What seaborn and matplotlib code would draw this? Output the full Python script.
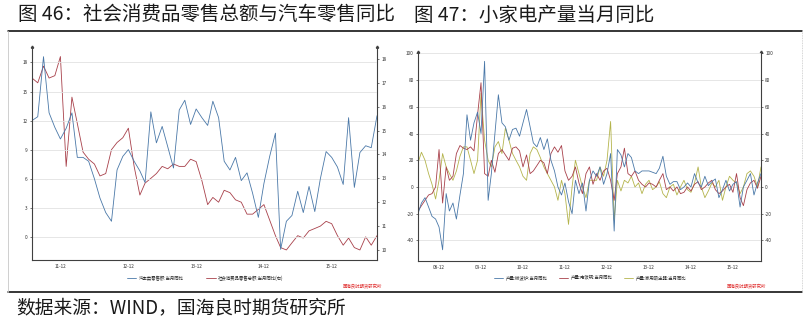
import matplotlib
matplotlib.use("Agg")
import matplotlib.pyplot as plt
from matplotlib.lines import Line2D
import pandas as pd
import seaborn as sns

sns.set_style("white")
plt.rcParams['font.family'] = ['Noto Sans CJK SC', 'DejaVu Sans']
plt.rcParams['axes.unicode_minus'] = False

# ---------------- 图 46 data (monthly, %) ----------------
retail_start = "2011-07-01"
auto_retail_yoy = [
    12.0, 12.4, 18.6, 12.8, 11.3, 10.1, 11.2, 12.8, 8.2, 8.2,
    7.8, 6.0, 4.0, 2.5, 1.6, 6.9, 8.3, 9.0, 7.8, 6.8,
    5.6, 12.9, 9.7, 11.4, 9.3, 7.1, 13.1, 14.1, 11.6, 13.2,
    12.3, 11.5, 14.0, 12.3, 7.8, 6.9, 8.2, 5.8, 6.6, 4.5,
    2.0, 5.5, 8.3, 10.7, -1.3, 1.6, 2.2, 4.7, 2.5, 5.2,
    2.6, 6.0, 8.8, 8.2, 7.2, 5.4, 12.3, 5.1, 8.7, 9.4,
    9.2, 12.5,
]
total_retail_yoy = [
    17.2, 17.0, 17.7, 17.2, 17.3, 18.1, 13.5, 16.4, 15.3, 14.1,
    13.8, 13.6, 13.1, 13.2, 14.2, 14.5, 14.7, 15.1, 13.5, 12.3,
    12.8, 13.0, 13.2, 13.5, 13.4, 13.6, 13.5, 13.5, 13.8, 13.7,
    12.9, 11.9, 12.2, 12.0, 12.5, 12.4, 12.1, 12.0, 11.5, 11.5,
    11.7, 11.9, 11.25, 10.6, 10.1, 10.0, 10.3, 10.6, 10.5, 10.8,
    10.9, 11.0, 11.2, 11.1, 10.6, 10.2, 10.5, 10.1, 10.0, 10.55,
    10.2, 10.6,
]
retail_labels = ["汽车类零售额:当月同比", "社会消费品零售总额:当月同比(右)"]

# ---------------- 图 47 data (monthly, %) ----------------
appliance_start = "2008-06-01"
microwave_yoy = [
    -20, -12, -8, -15, -22, -24, -30, -47, -5, -18,
    -12, -24, -6, 10, 54, 35, 48, 56, 40, 94,
    -10, 10, 40, 69, 48, 45, 35, 43, 44, 38,
    48, 58, 45, 33, 30, 37, 28, 36, 20, 12,
    0, -6, 3, -11, -20, 5, -5, 3, -18, 5,
    12, 8, 15, 2, 10, 25, -33, 28, 24, 15,
    25, 22, 12, 10, 12, 12, 12, 11, 10, 14,
    23, 8, 2, 4, 4, -2, 0, 3, 0, 10,
    3, 0, 8, 1, 4, 6, -8, -2, 5, -3,
    2, 4, -15, 0, 5, 10, -6, 3, 10,
]
rice_cooker_yoy = [
    -18, -14, -10, -6, -5, 0, 28, -12, 15, 5,
    8, 25, 31, 29, 28, 30, 27, 54, 78, 10,
    8, 20, 11, 25, 28, 24, 20, 29, 30, 27,
    15, 24, 10, 12, 16, 20, 18, 10, 25, 30,
    26, 31, 12, 5, 8, 15, 3, -5, 10, 15,
    2, 10, 5, 12, 14, 5, -10, 10, 15, 29,
    10, 8, 12, 5, 2, 0, 3, 2, 0, 5,
    10, -2, 0, -3, 0, -5, -4, 0, -3, 2,
    4, -2, 0, 3, 5, -2, -5, -3, 0, 2,
    -4, 10, -8, -14, -2, 3, 5, -1, 8,
]
vacuum_yoy = [
    18, 26, 20, 10, 2, -9, 5, 25, 15, 10,
    5, 12, 23, 30, 30, 20, 10, 20, 70, 35,
    20, 15, 30, 34, 25, 44, 35, 25, 20, 15,
    8, 5, 25, 30, 28, 22, 15, 10, 5, 0,
    -10, 5, -5, -28, 0, 20, 10, 0, -8, 5,
    5, 5, 15, 8, 20, 49, -25, 5, -3, 5,
    3, 8, 0, 3, -5, 2, 5, -2, 0, 4,
    -5, -8, 0, 2, -6, 0, 5, -2, -4, 3,
    15, 0, -8, -3, 3, 0, 5, -10, 0, 8,
    5, 3, -5, 0, 10, 12, 8, 0, 15,
]
appliance_labels = ["产量:微波炉:当月同比", "产量:电饭锅:当月同比", "产量:家用吸尘器:当月同比"]

BLUE = "#4a78a8"
RED = "#a8404a"
OLIVE = "#b4b44c"
SPINE = "#404040"
GRID = "#e2e2e2"
TICK_FS = 3.4

retail = pd.DataFrame({
    "month": pd.date_range(retail_start, periods=len(auto_retail_yoy), freq="MS"),
    "auto": auto_retail_yoy,
    "total": total_retail_yoy,
})
appl = pd.DataFrame({
    "month": pd.date_range(appliance_start, periods=len(microwave_yoy), freq="MS"),
    "a": microwave_yoy,
    "b": rice_cooker_yoy,
    "c": vacuum_yoy,
})

fig = plt.figure(figsize=(8.09, 3.25), dpi=100)
W, H = 809, 325


def px_axes(x0, y0, x1, y1):
    return fig.add_axes([x0 / W, 1 - y1 / H, (x1 - x0) / W, (y1 - y0) / H])


def style_axes(ax, twin, yticks_l, yticks_r, xdates, xlabels):
    for a in (ax, twin):
        a.spines["top"].set_visible(False)
        for s in ("left", "right", "bottom"):
            a.spines[s].set_color(SPINE)
            a.spines[s].set_linewidth(0.8)
        a.set_xlabel("")
        a.set_ylabel("")
    ax.spines["right"].set_visible(False)
    twin.spines["left"].set_visible(False)
    twin.spines["bottom"].set_visible(False)
    ax.set_yticks(yticks_l)
    twin.set_yticks(yticks_r)
    ax.set_yticklabels([f"{v:g}" for v in yticks_l])
    twin.set_yticklabels([f"{v:g}" for v in yticks_r])
    ax.set_xticks(xdates)
    ax.set_xticklabels(xlabels)
    ax.tick_params(axis="both", labelsize=TICK_FS, length=1.5, width=0.5,
                   color=SPINE, pad=1.5, labelcolor="#333333", direction="out")
    twin.tick_params(axis="y", labelsize=TICK_FS, length=1.5, width=0.5,
                     color=SPINE, pad=1.5, labelcolor="#333333", direction="out")
    ax.grid(axis="y", color=GRID, linewidth=0.6)
    ax.grid(axis="x", visible=False)
    twin.grid(False)
    ax.set_zorder(twin.get_zorder() + 1)
    ax.patch.set_visible(False)
    # small end marks at the top of both value axes
    for a, xpos in ((ax, 0), (twin, 1)):
        a.plot([xpos], [1.0], marker=(3, 0, 0), markersize=2, color=SPINE,
               transform=a.transAxes, clip_on=False)


# ---------------- left chart ----------------
axL = px_axes(32, 47, 377, 260)
axL2 = axL.twinx()
sns.lineplot(data=retail, x="month", y="total", ax=axL2, color=RED, linewidth=0.6)
sns.lineplot(data=retail, x="month", y="auto", ax=axL, color=BLUE, linewidth=0.6)
axL.set_ylim(-2.4, 19.6)
axL2.set_ylim(9.58, 18.5)
axL.set_xlim(retail["month"].iloc[0], retail["month"].iloc[-1])
ticksL = pd.to_datetime(["2011-12-01", "2012-12-01", "2013-12-01", "2014-12-01", "2015-12-01"])
style_axes(axL, axL2, [0, 3, 6, 9, 12, 15, 18], list(range(10, 19)),
           ticksL, [d.strftime("%y-%m") for d in ticksL])

# ---------------- right chart ----------------
axR = px_axes(418, 52, 761, 261)
axR2 = axR.twinx()
sns.lineplot(data=appl, x="month", y="c", ax=axR, color=OLIVE, linewidth=0.6)
sns.lineplot(data=appl, x="month", y="b", ax=axR, color=RED, linewidth=0.6)
sns.lineplot(data=appl, x="month", y="a", ax=axR, color=BLUE, linewidth=0.6)
axR.set_ylim(-55.4, 101)
axR2.set_ylim(-55.4, 101)
axR.set_xlim(appl["month"].iloc[0], appl["month"].iloc[-1])
ticksR = pd.to_datetime([f"{y}-12-01" for y in range(2008, 2016)])
style_axes(axR, axR2, list(range(-40, 101, 20)), list(range(-40, 101, 20)),
           ticksR, [d.strftime("%y-%m") for d in ticksR])

# ---------------- legends ----------------
legL = [Line2D([], [], color=BLUE, lw=0.6), Line2D([], [], color=RED, lw=0.6)]
fig.legend(legL, retail_labels, loc="center", bbox_to_anchor=(205 / W, 1 - 278 / H),
           ncol=2, fontsize=3.2, frameon=False, handlelength=2.2, columnspacing=5,
           handletextpad=0.5)
legR = [Line2D([], [], color=BLUE, lw=0.6), Line2D([], [], color=RED, lw=0.6),
        Line2D([], [], color=OLIVE, lw=0.6)]
fig.legend(legR, appliance_labels, loc="center", bbox_to_anchor=(590 / W, 1 - 278 / H),
           ncol=3, fontsize=3.2, frameon=False, handlelength=2.2, columnspacing=2.5,
           handletextpad=0.5)

# source stamps
for xr in (382, 766):
    fig.text(xr / W, 1 - 286 / H, "国海良时期货研究所", color="#e03030", fontsize=3.2,
             ha="right", va="center", style="italic")

# ---------------- titles, frame and source ----------------
fig.text(18 / W, 1 - 15 / H, "图 46：社会消费品零售总额与汽车零售同比", fontsize=14,
         ha="left", va="center", color="#1a1a1a", fontweight="light")
fig.text(414 / W, 1 - 15 / H, "图 47：小家电产量当月同比", fontsize=14,
         ha="left", va="center", color="#1a1a1a", fontweight="light")
fig.text(16 / W, 1 - 308 / H, "数据来源：WIND，国海良时期货研究所", fontsize=13.5,
         ha="left", va="center", color="#1a1a1a", fontweight="light")

fig.add_artist(Line2D([8 / W, 802 / W], [1 - 30.5 / H, 1 - 30.5 / H], color="black", lw=1.1))
fig.add_artist(Line2D([8 / W, 802 / W], [1 - 292 / H, 1 - 292 / H], color="black", lw=1.1))
fig.add_artist(Line2D([8 / W, 8 / W], [1 - 30.5 / H, 1 - 292 / H], color="#c8c8c8", lw=0.6))
fig.add_artist(Line2D([802 / W, 802 / W], [1 - 30.5 / H, 1 - 292 / H], color="#c8c8c8",
                      lw=0.6, ls=(0, (1, 1))))

fig.savefig("out.png", dpi=100)
